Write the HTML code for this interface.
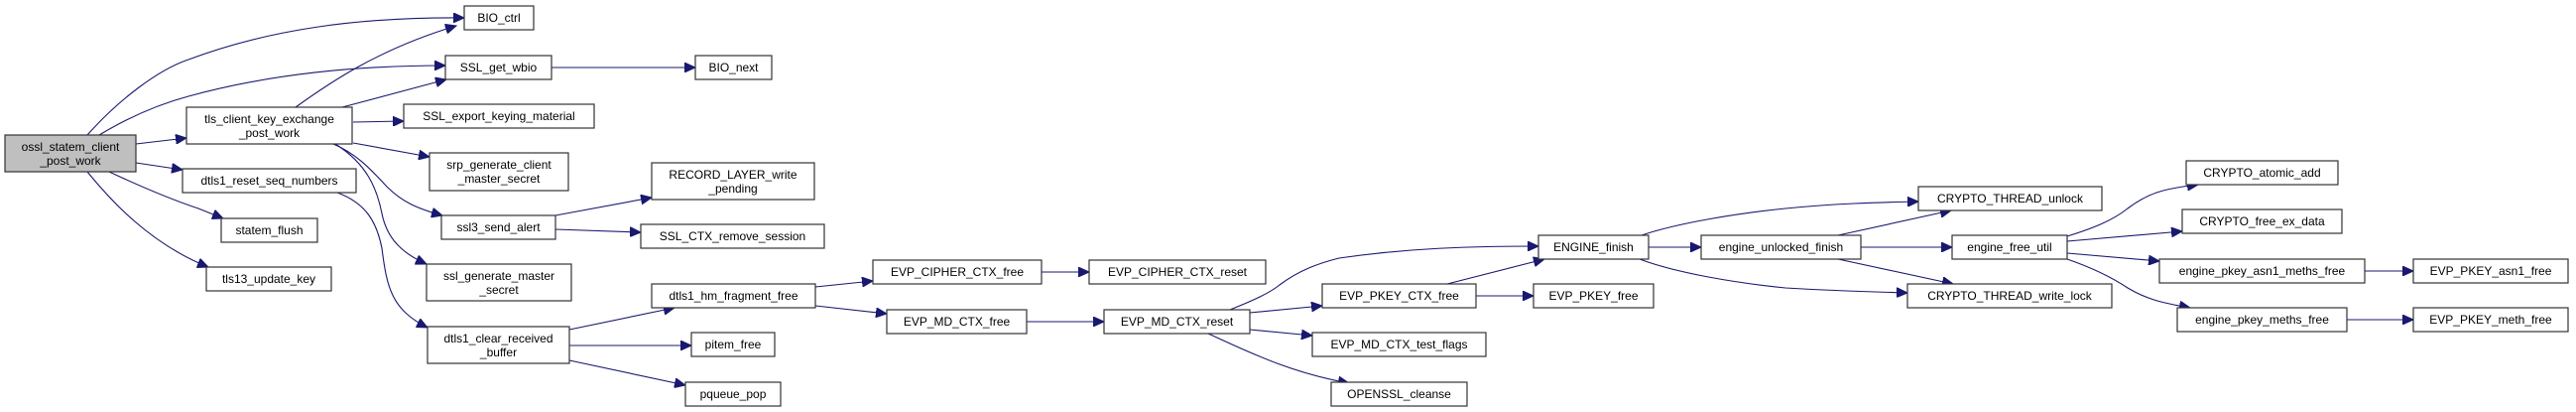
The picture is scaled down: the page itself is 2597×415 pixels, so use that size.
<!DOCTYPE html>
<html><head><meta charset="utf-8"><style>
html,body{margin:0;padding:0;background:#fff;}
svg{display:block;}
text{font-family:"Liberation Sans",Arial,sans-serif;font-size:12px;fill:#000;text-anchor:middle;}
rect{fill:#fff;stroke:#333;stroke-width:1.2;}
path{fill:none;stroke:#191970;stroke-width:1.1;}
</style></head><body>
<svg width="2597" height="415" viewBox="0 0 2597 415" xmlns="http://www.w3.org/2000/svg">
<defs>
<marker id="a" markerUnits="userSpaceOnUse" markerWidth="12" markerHeight="10" refX="11" refY="5" orient="auto">
<path d="M0,0 L11,5 L0,10 Z" style="fill:#191970;stroke:#191970;stroke-width:1"/>
</marker>
</defs>
<g marker-end="url(#a)">
<path d="M88,136 C120,100 160,70 190,60 C270,30 360,17 468,18"/>
<path d="M100,136 C130,118 160,105 190,97 C270,75 360,66 449,66"/>
<path d="M137,145 L188,139"/>
<path d="M137,164 L184,171"/>
<path d="M110,173 C140,187 170,200 200,210 C210,214 215,216 225,220"/>
<path d="M88,173 C110,200 150,245 210,269"/>
<path d="M298,108 C330,85 380,50 460,26"/>
<path d="M345,108 L450,80"/>
<path d="M356,123 L407,122"/>
<path d="M356,144 L433,158"/>
<path d="M336,145 C360,155 375,172 390,188 C405,203 420,210 446,217"/>
<path d="M338,145 C370,165 380,190 385,215 C390,240 405,255 430,266"/>
<path d="M340,194 C370,205 380,225 385,250 C390,290 395,312 431,330"/>
<path d="M560,217 L657,199"/>
<path d="M560,231 L646,234"/>
<path d="M556,68 L701,68"/>
<path d="M574,332 L680,310"/>
<path d="M574,348 L697,348"/>
<path d="M574,363 L691,388"/>
<path d="M822,289 L880,283"/>
<path d="M822,308 L894,316"/>
<path d="M1050,274 L1098,274"/>
<path d="M1035,324 L1113,324"/>
<path d="M1240,312 C1265,302 1280,295 1290,287 C1310,272 1330,265 1350,260 C1420,250 1480,248 1551,248"/>
<path d="M1260,315 L1333,308"/>
<path d="M1260,332 L1323,338"/>
<path d="M1218,336 C1260,355 1300,375 1360,386"/>
<path d="M1459,286 L1557,261"/>
<path d="M1488,298 L1546,298"/>
<path d="M1662,249 L1715,249"/>
<path d="M1655,237 C1690,225 1750,215 1800,210 C1850,205 1890,204 1934,203"/>
<path d="M1653,261 C1690,275 1750,285 1800,290 C1850,293 1890,294 1923,295"/>
<path d="M1853,237 L1967,212"/>
<path d="M1876,249 L1968,249"/>
<path d="M1853,261 L1969,286"/>
<path d="M2084,238 C2110,230 2130,222 2145,210 C2165,195 2180,190 2216,186"/>
<path d="M2084,243 L2200,233"/>
<path d="M2084,255 L2177,263"/>
<path d="M2084,261 C2110,270 2130,280 2145,290 C2165,302 2180,305 2208,310"/>
<path d="M2384,273 L2433,273"/>
<path d="M2366,322 L2433,322"/>
</g>

<rect x="5" y="136" width="132" height="37" style="fill:#bfbfbf"/>
<text x="71" y="152">ossl_statem_client</text><text x="71" y="166">_post_work</text>

<rect x="468" y="6" width="70" height="24"/><text x="503" y="22">BIO_ctrl</text>
<rect x="449" y="56" width="107" height="24"/><text x="502.5" y="72">SSL_get_wbio</text>
<rect x="701" y="56" width="77" height="24"/><text x="739.5" y="72">BIO_next</text>
<rect x="407" y="105" width="192" height="24"/><text x="503" y="121">SSL_export_keying_material</text>
<rect x="433" y="154" width="140" height="38"/><text x="503" y="170">srp_generate_client</text><text x="503" y="184">_master_secret</text>
<rect x="445" y="217" width="115" height="24"/><text x="502.5" y="233">ssl3_send_alert</text>
<rect x="430" y="266" width="146" height="37"/><text x="503" y="282">ssl_generate_master</text><text x="503" y="296">_secret</text>
<rect x="431" y="329" width="143" height="37"/><text x="502.5" y="345">dtls1_clear_received</text><text x="502.5" y="359">_buffer</text>

<rect x="188" y="108" width="167" height="37"/><text x="271.5" y="124">tls_client_key_exchange</text><text x="271.5" y="138">_post_work</text>
<rect x="184" y="170" width="175" height="24"/><text x="271.5" y="186">dtls1_reset_seq_numbers</text>
<rect x="223" y="220" width="97" height="24"/><text x="271.5" y="236">statem_flush</text>
<rect x="208" y="269" width="126" height="24"/><text x="271" y="285">tls13_update_key</text>

<rect x="657" y="164" width="164" height="37"/><text x="739" y="180">RECORD_LAYER_write</text><text x="739" y="194">_pending</text>
<rect x="646" y="226" width="185" height="24"/><text x="738.5" y="242">SSL_CTX_remove_session</text>
<rect x="657" y="286" width="165" height="24"/><text x="739.5" y="302">dtls1_hm_fragment_free</text>
<rect x="697" y="335" width="84" height="24"/><text x="739" y="351">pitem_free</text>
<rect x="691" y="385" width="96" height="24"/><text x="739" y="401">pqueue_pop</text>

<rect x="880" y="262" width="170" height="24"/><text x="965" y="278">EVP_CIPHER_CTX_free</text>
<rect x="894" y="312" width="141" height="24"/><text x="964.5" y="328">EVP_MD_CTX_free</text>
<rect x="1098" y="262" width="178" height="24"/><text x="1187" y="278">EVP_CIPHER_CTX_reset</text>
<rect x="1113" y="312" width="147" height="24"/><text x="1186.5" y="328">EVP_MD_CTX_reset</text>

<rect x="1551" y="237" width="111" height="24"/><text x="1606.5" y="253">ENGINE_finish</text>
<rect x="1715" y="237" width="161" height="24"/><text x="1795.5" y="253">engine_unlocked_finish</text>
<rect x="1333" y="286" width="155" height="24"/><text x="1410.5" y="302">EVP_PKEY_CTX_free</text>
<rect x="1546" y="286" width="121" height="24"/><text x="1606.5" y="302">EVP_PKEY_free</text>
<rect x="1323" y="335" width="175" height="24"/><text x="1410.5" y="351">EVP_MD_CTX_test_flags</text>
<rect x="1342" y="385" width="137" height="24"/><text x="1410.5" y="401">OPENSSL_cleanse</text>

<rect x="1934" y="188" width="185" height="24"/><text x="2026.5" y="204">CRYPTO_THREAD_unlock</text>
<rect x="1923" y="286" width="206" height="24"/><text x="2026" y="302">CRYPTO_THREAD_write_lock</text>
<rect x="1968" y="237" width="116" height="24"/><text x="2026" y="253">engine_free_util</text>
<rect x="2204" y="162" width="153" height="24"/><text x="2280.5" y="178">CRYPTO_atomic_add</text>
<rect x="2200" y="211" width="161" height="24"/><text x="2280.5" y="227">CRYPTO_free_ex_data</text>
<rect x="2177" y="261" width="207" height="24"/><text x="2280.5" y="277">engine_pkey_asn1_meths_free</text>
<rect x="2195" y="310" width="171" height="24"/><text x="2280.5" y="326">engine_pkey_meths_free</text>
<rect x="2433" y="261" width="156" height="24"/><text x="2511" y="277">EVP_PKEY_asn1_free</text>
<rect x="2433" y="310" width="156" height="24"/><text x="2511" y="326">EVP_PKEY_meth_free</text>
</svg>
</body></html>
